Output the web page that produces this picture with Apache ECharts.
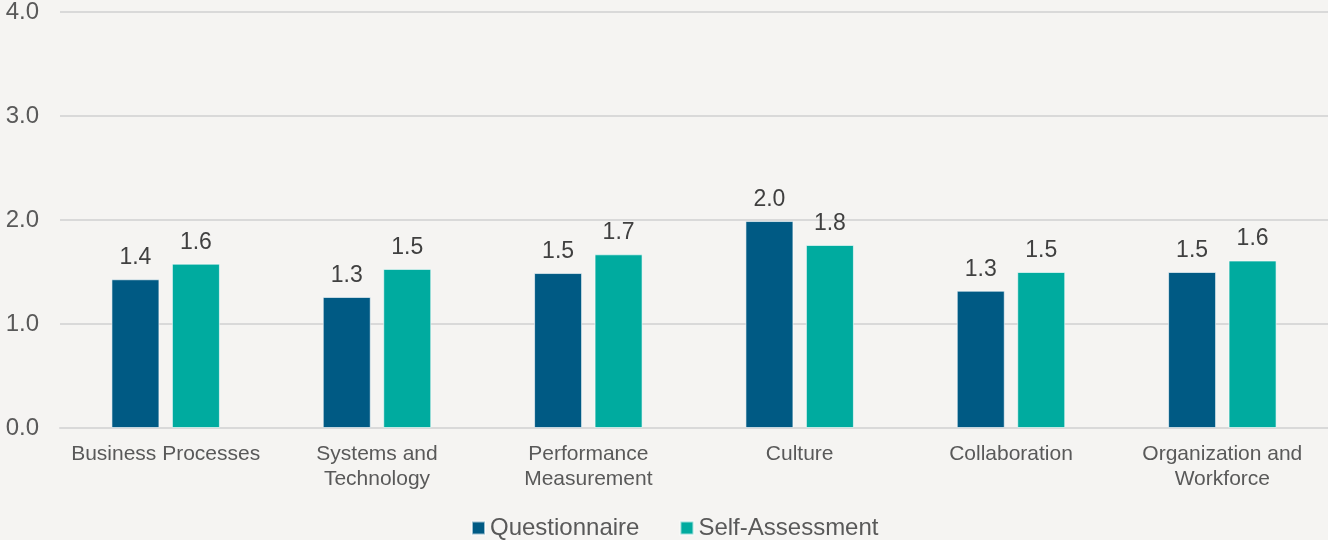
<!DOCTYPE html>
<html>
	<head>
		<meta charset="utf-8">
		<title>Questionnaire vs Self-Assessment</title>
		<script src="https://cdn.jsdelivr.net/npm/echarts@6/dist/echarts.min.js"></script>
		<style>
			html, body { margin: 0; padding: 0; background: #f5f4f2; }
			#chart { width: 1328px; height: 540px; }
		</style>
	</head>
	<body>
		<div id="chart"></div>
		<script type="text/javascript">
			// data
			var categories = ['Business Processes', 'Systems and\nTechnology', 'Performance\nMeasurement', 'Culture', 'Collaboration', 'Organization and\nWorkforce'];
			var questionnaire = [1.43, 1.26, 1.49, 1.99, 1.32, 1.50];
			var selfAssessment = [1.58, 1.53, 1.67, 1.76, 1.50, 1.61];
			var seriesNames = ['Questionnaire', 'Self-Assessment'];

			var chart = echarts.init(document.getElementById('chart'));
			var font = 'Liberation Sans, Arial, sans-serif';

			var labelOpt = {
				show: true,
				position: 'top',
				distance: 10,
				color: '#404040',
				fontSize: 23,
				fontFamily: font,
				formatter: function (p) { return p.value.toFixed(1); }
			};

			var option = {
				backgroundColor: '#f5f4f2',
				animation: false,
				grid: { left: 60, right: 0, top: 12, bottom: 112, containLabel: false },
				legend: {
					data: seriesNames,
					left: 471,
					top: 516,
					padding: 0,
					icon: 'rect',
					itemWidth: 13,
					itemHeight: 13,
					itemGap: 40,
					textStyle: { color: '#595959', fontSize: 24, fontFamily: font }
				},
				xAxis: {
					type: 'category',
					data: categories,
					axisLine: { lineStyle: { color: '#d9d9d9', width: 2 } },
					axisTick: { show: false },
					axisLabel: {
						color: '#595959',
						fontSize: 21,
						fontFamily: font,
						lineHeight: 25,
						margin: 14,
						interval: 0
					}
				},
				yAxis: {
					type: 'value',
					min: 0,
					max: 4,
					interval: 1,
					axisLine: { show: false },
					axisTick: { show: false },
					splitLine: { lineStyle: { color: '#d9d9d9', width: 2 } },
					axisLabel: {
						color: '#595959',
						fontSize: 24,
						fontFamily: font,
						margin: 21,
						formatter: function (v) { return v.toFixed(1); }
					}
				},
				series: [
					{
						name: seriesNames[0],
						type: 'bar',
						data: questionnaire,
						barWidth: 48,
						barGap: '26%',
						itemStyle: { color: '#005a84', borderColor: 'rgba(255,255,255,0.6)', borderWidth: 1 },
						label: labelOpt
					},
					{
						name: seriesNames[1],
						type: 'bar',
						data: selfAssessment,
						barWidth: 48,
						itemStyle: { color: '#00ab9f', borderColor: 'rgba(255,255,255,0.6)', borderWidth: 1 },
						label: labelOpt
					}
				]
			};

			chart.setOption(option);
		</script>
	</body>
</html>
